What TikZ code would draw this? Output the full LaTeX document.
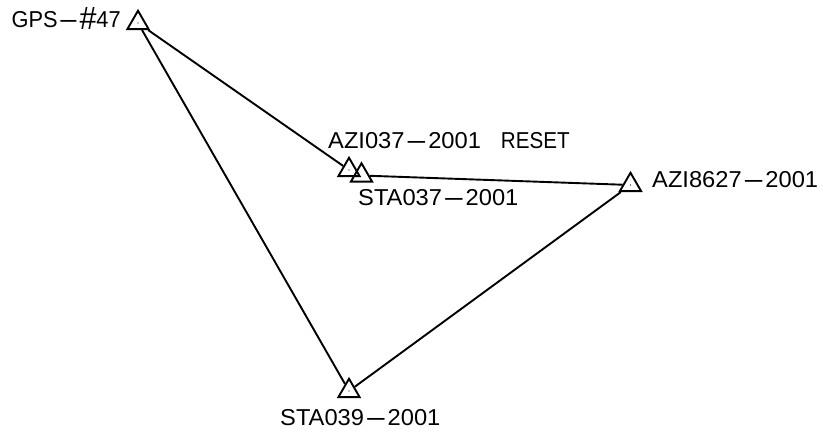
\documentclass[tikz,border=0pt]{standalone}
\usepackage{fontspec}
\setmainfont[FakeStretch=1.03]{Liberation Sans}
\usetikzlibrary{shapes.geometric}
\newcommand{\lng}{\scalebox{3}[1]{-}}
\tikzset{
  station/.style={draw=black,regular polygon,regular polygon sides=3,minimum size=24.5bp,inner sep=0pt,line width=1.9bp},
  leg/.style={draw=black,line width=1.9bp},
  lab/.style={font=\fontsize{23bp}{25bp}\selectfont,inner sep=0pt,text=black},
  mark dot/.style={fill=black}
}
\begin{document}
\begin{tikzpicture}[x=1bp,y=-1bp]
\useasboundingbox (0,0) rectangle (823,433);
\fill[white] (0,0) rectangle (823,433);
\node[station] (gps) at (138,23) {};
\node[station] (azi037) at (349,170) {};
\node[station] (sta037) at (361.5,175.5) {};
\node[station] (azi8627) at (630.5,185) {};
\node[station] (sta039) at (349,391) {};
\foreach \n in {gps,azi037,azi8627,sta039} \fill[mark dot] (\n.center) circle (0.7bp);
\draw[leg] (gps) -- (azi037);
\draw[leg] (sta037) -- (azi8627);
\draw[leg] (azi8627) -- (sta039);
\draw[leg] (sta039) -- (gps);
\node[lab,anchor=base west] (l1) at (11.5,28) {\scalebox{0.92}[1]{GPS\lng\raisebox{-1.5bp}{\scalebox{1.4}{\#}}47}};
\node[lab,anchor=base west] (l2) at (328,149) {AZI037\lng2001\hspace{20bp}\scalebox{0.87}[1]{RESET}};
\node[lab,anchor=base west] (l3) at (358,206) {STA037\lng2001};
\node[lab,anchor=base west] (l4) at (652,188) {AZI8627\lng2001};
\node[lab,anchor=base west] (l5) at (280,425) {STA039\lng2001};
\end{tikzpicture}
\end{document}
